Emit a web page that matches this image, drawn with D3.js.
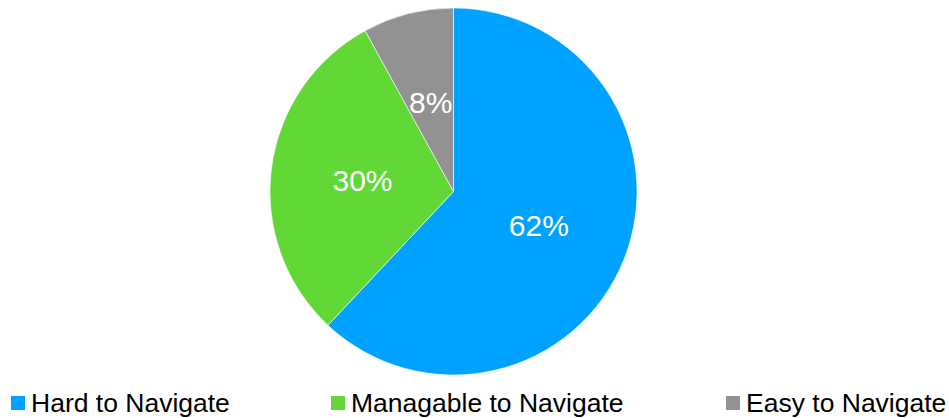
<!DOCTYPE html>
<html>
<head>
<meta charset="utf-8">
<script src="https://cdn.jsdelivr.net/npm/d3@7"></script>
<style>
  body { margin: 0; background: #fff; }
</style>
</head>
<body>
<div id="wrapper"></div>
<script>
width = 949
height = 418

// data
var categories = ["Hard to Navigate", "Managable to Navigate", "Easy to Navigate"]
var values = [62, 30, 8]
var colors = ["#00a2ff", "#62d836", "#929292"]
var legendX = [11, 331, 726]

var cx = 453.5, cy = 191.5, radius = 183.5

const svg = d3.select("#wrapper").append("svg")
    .attr("width", width)
    .attr("height", height)
    .style("font-family", "'Liberation Sans', Arial, sans-serif")

const pie = d3.pie().sort(null).value(d => d)
const arcs = pie(values)

const arc = d3.arc().innerRadius(0).outerRadius(radius)
const labelArc = d3.arc().innerRadius(radius * 0.5).outerRadius(radius * 0.5)

const g = svg.append("g")
    .attr("transform", `translate(${cx},${cy})`)

g.selectAll("path")
    .data(arcs)
    .join("path")
    .attr("d", arc)
    .attr("fill", (d, i) => colors[i])
    .attr("stroke", "#fff")
    .attr("stroke-width", 0.6)

g.selectAll("text")
    .data(arcs)
    .join("text")
    .attr("transform", d => `translate(${labelArc.centroid(d)})`)
    .attr("text-anchor", "middle")
    .attr("dy", "0.36em")
    .attr("fill", "#fff")
    .style("font-size", "30px")
    .text(d => d.data + "%")

// legend
const legend = svg.append("g")
    .selectAll("g")
    .data(categories)
    .join("g")
    .attr("transform", (d, i) => `translate(${legendX[i]},396)`)

legend.append("rect")
    .attr("width", 14)
    .attr("height", 14)
    .attr("fill", (d, i) => colors[i])

legend.append("text")
    .attr("x", 20)
    .attr("y", 15.7)
    .attr("fill", "#000")
    .style("font-size", "26.5px")
    .text(d => d)
</script>
</body>
</html>
